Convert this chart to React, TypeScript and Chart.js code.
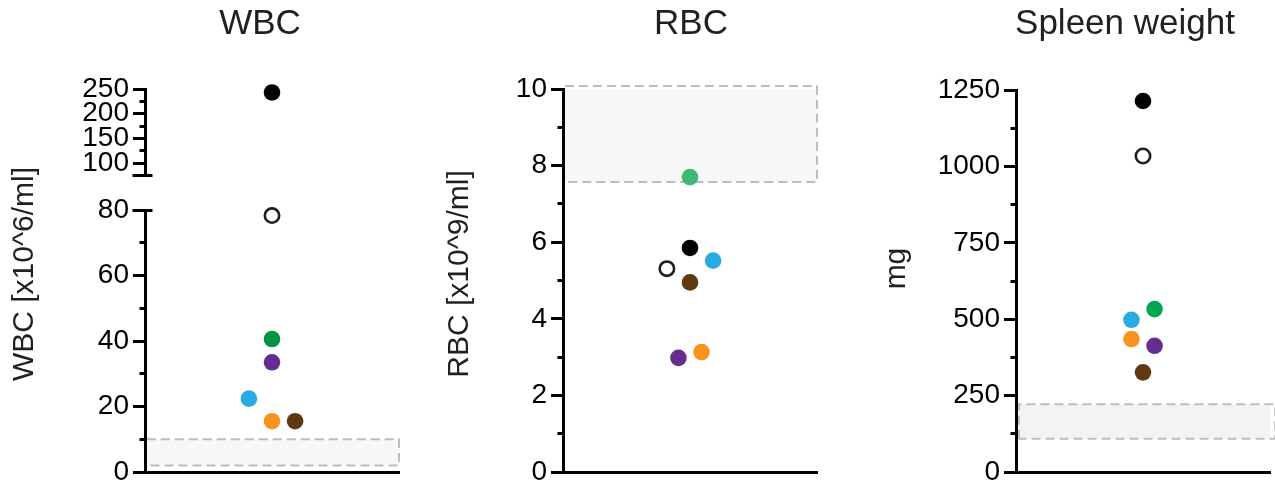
import React, { useEffect, useRef } from "react";
import { Chart, registerables } from "chart.js";

Chart.register(...registerables);

// ---------------- data ----------------
// one dot per animal/sample, same order in each panel
const samples = ["black", "open", "green", "purple", "blue", "orange", "brown"];

const wbcValues = [243, 78.3, 40.6, 33.5, 22.4, 15.5, 15.5];
const wbcJitter = [0, 0, 0, 0, -2, 0, 2];
const wbcNormalRange = [2, 10];
const wbcHighTicks = [100, 125, 150, 175, 200, 225, 250];
const wbcLowMax = 80;
const wbcHighMin = 76;
const wbcHighMax = 250;

const rbcValues = [5.85, 5.31, 7.7, 2.98, 5.52, 3.13, 4.95];
const rbcJitter = [0, -2, 0, -1, 2, 1, 0];
const rbcNormalRange = [7.57, 10.08];
const rbcMax = 10;

const spleenValues = [1214, 1034, 533, 413, 498, 435, 326];
const spleenJitter = [0, 0, 1, 1, -1, -1, 0];
const spleenNormalRange = [109, 222];
const spleenMax = 1250;

// ---------------- styles ----------------
const FONT = "'Liberation Sans', Arial, Helvetica, sans-serif";
const TEXT = "#231f20";
const HOLLOW = "#ffffff";
const wbcColors = ["#000000", HOLLOW, "#009444", "#662d91", "#29abe2", "#f7931e", "#603913"];
const rbcColors = ["#000000", HOLLOW, "#3cb878", "#662d91", "#29abe2", "#f7931e", "#603913"];
const spleenColors = ["#000000", HOLLOW, "#00a651", "#662d91", "#29abe2", "#f7931e", "#603913"];

const H = 484;
const MAJOR_LEN = 12;
const MINOR_LEN = 6;
const TITLE_SIZE = 35;
const AXIS_TITLE_SIZE = 30;
const TICK_SIZE = 28;

const fixW = (w: number) => (s: any) => {
  s.width = w;
  s.paddingTop = 0;
  s.paddingBottom = 0;
};
const fixH = (h: number) => (s: any) => {
  s.height = h;
  s.paddingLeft = 0;
  s.paddingRight = 0;
};

function dummyScale(position: string, width: number, extra: any = {}) {
  return {
    type: "linear",
    position,
    min: 0,
    max: 1,
    display: true,
    ticks: { display: false },
    grid: { display: false },
    border: { display: false },
    afterFit: fixW(width),
    ...extra,
  };
}

function titleStack(text: string, width: number, centerX: number, mainW: number, padW: number) {
  const pad = centerX - (AXIS_TITLE_SIZE * 1.2) / 2;
  return {
    yTitle: dummyScale("left", width, {
      stack: "ttl",
      stackWeight: mainW,
      weight: 20,
      title: {
        display: true,
        text,
        color: TEXT,
        font: { family: FONT, size: AXIS_TITLE_SIZE, weight: "normal", lineHeight: 1.2 },
        padding: { top: pad, bottom: 0 },
      },
    }),
    yTitlePad: dummyScale("left", width, { stack: "ttl", stackWeight: padW, weight: 19 }),
  };
}

function valueScale(o: {
  min: number;
  max: number;
  step?: number;
  list?: number[];
  major: (v: number) => boolean;
  width: number;
  size: number;
  extra?: any;
}) {
  const sc: any = {
    type: "linear",
    position: "left",
    min: o.min,
    max: o.max,
    afterFit: fixW(o.width),
    ticks: {
      stepSize: o.step,
      autoSkip: false,
      padding: 4,
      color: "#000",
      font: { family: FONT, size: o.size, weight: "normal" },
      callback: (v: number) => (o.major(v) ? String(v) : ""),
    },
    grid: {
      display: true,
      drawOnChartArea: false,
      drawTicks: true,
      tickLength: MAJOR_LEN,
      tickWidth: 3,
      tickColor: (c: any) => (c.tick && o.major(c.tick.value) ? "#000" : "rgba(0,0,0,0)"),
      z: 1,
    },
    border: { display: true, width: 3, color: "#000", z: 1 },
    ...(o.extra || {}),
  };
  if (o.list) {
    const list = o.list;
    sc.afterBuildTicks = (s: any) => {
      s.ticks = list.map((v) => ({ value: v }));
    };
  }
  return sc;
}

function xScale() {
  return {
    type: "linear",
    position: "bottom",
    min: -11,
    max: 11,
    ticks: { display: false },
    grid: { display: false },
    border: { display: true, width: 3, color: "#000", z: 1 },
    afterFit: fixH(12),
  };
}

function dots(values: number[], jitter: number[], colors: string[], axisFor: (v: number) => string) {
  return values.map((v, i) => {
    const hollow = colors[i] === HOLLOW;
    return {
      type: "scatter",
      label: samples[i],
      data: [{ x: jitter[i], y: v }],
      yAxisID: axisFor(v),
      xAxisID: "x",
      pointRadius: hollow ? 7.2 : 8.3,
      pointHoverRadius: hollow ? 7.2 : 8.3,
      pointBackgroundColor: colors[i],
      pointBorderColor: TEXT,
      pointBorderWidth: hollow ? 2.6 : 0,
      backgroundColor: colors[i],
      borderColor: TEXT,
      clip: false,
      order: 0,
    };
  });
}

function band(range: number[], x0: number, x1: number, fill: string, axis: string) {
  return {
    type: "line",
    label: "normal range",
    data: [
      { x: x0, y: range[0] },
      { x: x0, y: range[1] },
      { x: x1, y: range[1] },
      { x: x1, y: range[0] },
      { x: x0, y: range[0] },
    ],
    yAxisID: axis,
    xAxisID: "x",
    borderColor: "#bdbdbd",
    borderWidth: 2,
    borderDash: [9, 5],
    backgroundColor: fill,
    fill: "shape",
    pointRadius: 0,
    pointHoverRadius: 0,
    tension: 0,
    clip: false,
    order: 1,
  };
}

function axisMarks(specs: { id: string; major: (v: number) => boolean }[], breaks: { id: string; edge: string }[]) {
  const align = (p: number) => Math.round(p - 1.5) + 1.5;
  return {
    id: "axisMarks",
    afterDraw(chart: any) {
      const ctx = chart.ctx;
      ctx.save();
      ctx.strokeStyle = "#000";
      ctx.lineWidth = 3;
      for (const s of specs) {
        const sc = chart.scales[s.id];
        if (!sc) continue;
        const x = align(sc.right);
        for (const t of sc.ticks) {
          if (s.major(t.value)) continue;
          const y = align(sc.getPixelForValue(t.value));
          ctx.beginPath();
          ctx.moveTo(x - MINOR_LEN, y);
          ctx.lineTo(x, y);
          ctx.stroke();
        }
      }
      for (const b of breaks) {
        const sc = chart.scales[b.id];
        if (!sc) continue;
        const x = align(sc.right);
        const y = align(b.edge === "top" ? sc.top : sc.bottom);
        ctx.beginPath();
        ctx.moveTo(x - MAJOR_LEN - 1, y);
        ctx.lineTo(x + 7, y);
        ctx.stroke();
      }
      ctx.restore();
    },
  };
}

function baseOptions(title: string, areaTop: number, scales: any) {
  const lh = TITLE_SIZE * 1.2;
  const padTop = 24.4 - lh / 2;
  return {
    responsive: false,
    maintainAspectRatio: false,
    animation: false,
    events: [],
    layout: { padding: 0 },
    plugins: {
      legend: { display: false },
      tooltip: { enabled: false },
      title: {
        display: true,
        text: title,
        color: TEXT,
        font: { family: FONT, size: TITLE_SIZE, weight: "normal", lineHeight: 1.2 },
        padding: { top: padTop, bottom: areaTop - padTop - lh },
      },
    },
    scales,
  };
}

// ---------------- panels ----------------
const wbcLowMajor = (v: number) => v % 20 === 0;
const wbcHighMajor = (v: number) => v % 50 === 0;
const rbcMajor = (v: number) => v % 2 === 0;
const spleenMajor = (v: number) => v % 250 === 0;

function buildWBC() {
  return {
    type: "scatter",
    data: {
      datasets: [
        ...dots(wbcValues, wbcJitter, wbcColors, (v) => (v > wbcLowMax ? "yHigh" : "yLow")),
        band(wbcNormalRange, -11, 11, "#f7f7f7", "yLow"),
      ],
    },
    options: baseOptions("WBC", 89, {
      x: xScale(),
      ...titleStack("WBC [x10^6/ml]", 65, 25, 370, 13),
      yHigh: valueScale({
        min: wbcHighMin,
        max: wbcHighMax,
        list: wbcHighTicks,
        major: wbcHighMajor,
        width: 80,
        size: 28,
        extra: { stack: "wbc", stackWeight: 86, weight: 3 },
      }),
      yGap: dummyScale("left", 80, { stack: "wbc", stackWeight: 35, weight: 2 }),
      yLow: valueScale({
        min: 0,
        max: wbcLowMax,
        step: 10,
        major: wbcLowMajor,
        width: 80,
        size: TICK_SIZE,
        extra: { stack: "wbc", stackWeight: 262, weight: 1 },
      }),
      yRight: dummyScale("right", 121),
    }),
    plugins: [
      axisMarks(
        [
          { id: "yHigh", major: wbcHighMajor },
          { id: "yLow", major: wbcLowMajor },
        ],
        [
          { id: "yHigh", edge: "bottom" },
          { id: "yLow", edge: "top" },
        ]
      ),
    ],
  };
}

function buildRBC() {
  return {
    type: "scatter",
    data: {
      datasets: [...dots(rbcValues, rbcJitter, rbcColors, () => "y"), band(rbcNormalRange, -11, 11, "#f7f7f7", "y")],
    },
    options: baseOptions("RBC", 89, {
      x: xScale(),
      ...titleStack("RBC [x10^9/ml]", 60, 30, 370, 13),
      y: valueScale({ min: 0, max: rbcMax, step: 1, major: rbcMajor, width: 73, size: TICK_SIZE }),
      yRight: dummyScale("right", 135),
    }),
    plugins: [axisMarks([{ id: "y", major: rbcMajor }], [])],
  };
}

function buildSpleen() {
  return {
    type: "scatter",
    data: {
      datasets: [
        ...dots(spleenValues, spleenJitter, spleenColors, () => "y"),
        band(spleenNormalRange, -10.75, 11.45, "#f2f3f2", "y"),
      ],
    },
    options: baseOptions("Spleen weight", 90, {
      x: xScale(),
      ...titleStack("mg", 60, 37, 358, 25),
      y: valueScale({ min: 0, max: spleenMax, step: 125, major: spleenMajor, width: 96, size: TICK_SIZE }),
      yRight: dummyScale("right", 120),
    }),
    plugins: [axisMarks([{ id: "y", major: spleenMajor }], [])],
  };
}

function Panel({ left, width, build }: { left: number; width: number; build: () => any }) {
  const ref = useRef<HTMLCanvasElement>(null);
  useEffect(() => {
    if (!ref.current) return;
    const chart = new Chart(ref.current, build() as any);
    return () => chart.destroy();
  }, []);
  return (
    <canvas
      ref={ref}
      width={width}
      height={H}
      style={{ position: "absolute", left, top: 0, width, height: H }}
    />
  );
}

export default function App() {
  return (
    <div
      style={{
        position: "fixed",
        left: 0,
        top: 0,
        width: 1275,
        height: H,
        overflow: "hidden",
        background: "#ffffff",
      }}
    >
      <Panel left={0} width={520} build={buildWBC} />
      <Panel left={430} width={522} build={buildRBC} />
      <Panel left={860} width={530} build={buildSpleen} />
    </div>
  );
}
